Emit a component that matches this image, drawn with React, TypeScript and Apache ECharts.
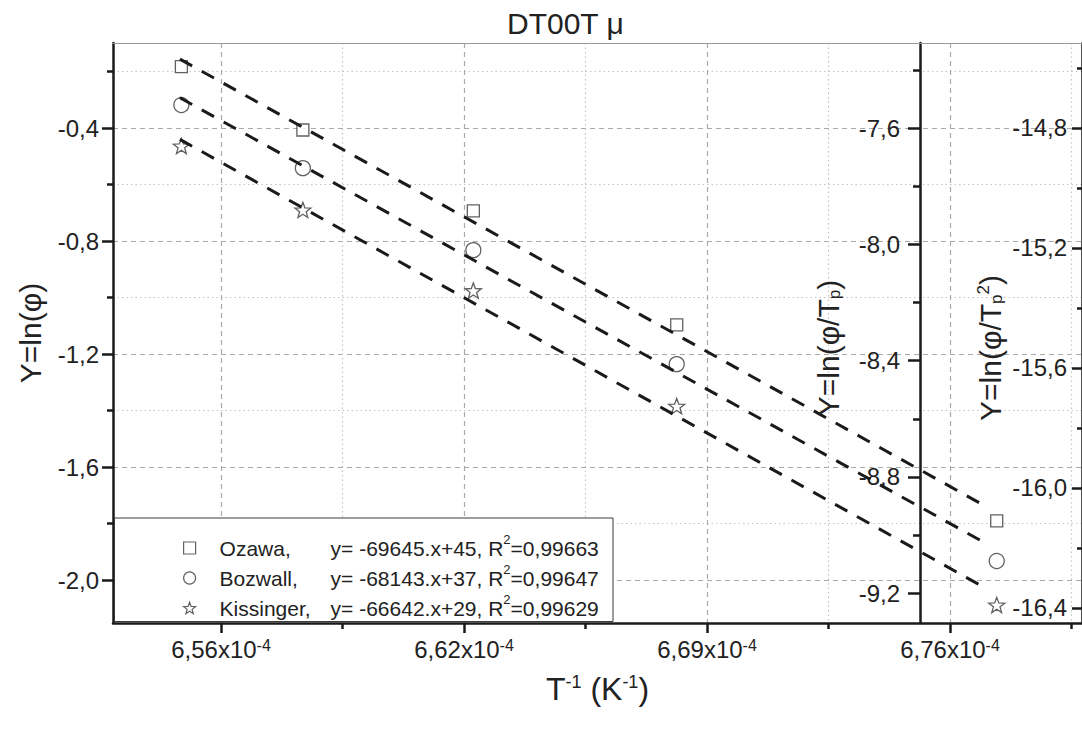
import React, { useEffect, useRef } from 'react';
import * as echarts from 'echarts';

const FONT = '"Liberation Sans", Arial, Helvetica, sans-serif';

// ---- data ----
const invT = [6.5494e-4, 6.5819e-4, 6.6275e-4, 6.6819e-4, 6.7675e-4];
const ozawa = [-0.183, -0.407, -0.693, -1.097, -1.791];
const bozwall = [-7.521, -7.738, -8.02, -8.412, -9.089];
const kissinger = [-14.86, -15.073, -15.342, -15.727, -16.39];

const fitInvT = [6.549e-4, 6.7644e-4];
const ozawaFit = [-0.156, -1.738];
const bozwallFit = [-7.496, -9.027];
const kissingerFit = [-14.838, -16.333];

const seriesNames = ['Ozawa', 'Bozwall', 'Kissinger'];
const equations = ['y= -69645.x+45', 'y= -68143.x+37', 'y= -66642.x+29'];
const r2Values = ['0,99663', '0,99647', '0,99629'];

// ---- ticks ----
const xRange = [6.53111e-4, 6.79031e-4];
const xMajorTicks = [6.56e-4, 6.625e-4, 6.69e-4, 6.755e-4];
const xMajorLabels = ['6,56', '6,62', '6,69', '6,76'];
const xMinorTicks = [6.5925e-4, 6.6575e-4, 6.7225e-4, 6.7875e-4];

const lnPhiRange = [-2.1522, -0.0991];
const lnPhiMajor = [-2.0, -1.6, -1.2, -0.8, -0.4];
const lnPhiMinor = [-1.8, -1.4, -1.0, -0.6, -0.2];

const lnPhiTpRange = [-9.3022, -7.3077];
const lnPhiTpMajor = [-9.2, -8.8, -8.4, -8.0, -7.6];
const lnPhiTpMinor = [-9.0, -8.6, -8.2, -7.8, -7.4];

const lnPhiTp2Range = [-16.45, -14.5167];
const lnPhiTp2Major = [-16.4, -16.0, -15.6, -15.2, -14.8];
const lnPhiTp2Minor = [-16.2, -15.8, -15.4, -15.0, -14.6];

const SQUARE = 'path://M0,0 L10,0 L10,10 L0,10 Z';
const STAR =
  'path://M12,1 L14.9,8.9 L23.4,9.3 L16.7,14.5 L19,22.7 L12,18 L5,22.7 L7.3,14.5 L0.6,9.3 L9.1,8.9 Z';

const comma = (v: number) => v.toFixed(1).replace('.', ',');
const INK = '#1a1a1a';
const TXT = '#222';

function majorY(range: number[], ticks: number[], position: string, offset: number, inside: boolean, tickLen: number, labelMargin: number, grid: boolean, name?: string) {
  return {
    type: 'value',
    gridIndex: 0,
    position,
    offset,
    min: range[0],
    max: range[1],
    name,
    nameLocation: 'middle',
    nameGap: 68,
    nameTextStyle: { fontSize: 30, fontFamily: FONT, color: TXT },
    axisLine: { show: true, onZero: false, lineStyle: { color: INK, width: 2.5 } },
    axisTick: { show: true, inside, length: tickLen, customValues: ticks, lineStyle: { color: INK, width: 2.5 } },
    axisLabel: {
      show: true,
      inside,
      margin: labelMargin,
      customValues: ticks,
      formatter: (v: number) => comma(v),
      fontSize: 24,
      fontFamily: FONT,
      color: TXT,
    },
    splitLine: grid
      ? { show: true, lineStyle: { color: '#a9a9a9', width: 1.2, type: [5, 4] } }
      : { show: false },
  };
}

function minorY(range: number[], ticks: number[], position: string, offset: number, inside: boolean, tickLen: number, grid: boolean) {
  return {
    type: 'value',
    gridIndex: 0,
    position,
    offset,
    min: range[0],
    max: range[1],
    axisLine: { show: false, onZero: false },
    axisTick: { show: true, inside, length: tickLen, customValues: ticks, lineStyle: { color: INK, width: 2.5 } },
    axisLabel: { show: false },
    splitLine: grid
      ? { show: true, lineStyle: { color: '#c4c4c4', width: 1.2, type: [1.5, 3] } }
      : { show: false },
  };
}

const legendText = (name: string) => {
  const i = seriesNames.indexOf(name);
  return `{g| }{n|${name},}{e|${equations[i]}, R}{s|2}{e|=${r2Values[i]}}`;
};

export default function App() {
  const ref = useRef<HTMLDivElement>(null);
  useEffect(() => {
    if (!ref.current) return;
    const chart = echarts.init(ref.current, undefined, { renderer: 'svg' });
    const symbolStyle = { color: '#ffffff', borderColor: '#3a3a3a', borderWidth: 1.3 };
    const fitStyle = { color: INK, width: 3, type: [14, 11] };
    const option: any = {
      animation: false,
      backgroundColor: '#ffffff',
      title: {
        text: 'DT00T μ',
        left: 502,
        top: 3,
        textStyle: { fontSize: 30, fontWeight: 'normal', fontFamily: FONT, color: TXT },
      },
      grid: { left: 113, top: 43, right: 0, bottom: 108, containLabel: false },
      legend: {
        data: seriesNames,
        orient: 'vertical',
        left: 183,
        top: 533,
        padding: 0,
        itemGap: 0,
        itemWidth: 12,
        itemHeight: 12,
        z: 10,
        itemStyle: { borderWidth: 1.2 },
        formatter: legendText,
        textStyle: {
          color: TXT,
          fontFamily: FONT,
          fontSize: 21,
          lineHeight: 30,
          rich: {
            g: { width: 19, fontSize: 21, fontFamily: FONT, lineHeight: 30 },
            n: { width: 111, fontSize: 21, fontFamily: FONT, color: TXT, lineHeight: 30 },
            e: { fontSize: 21, fontFamily: FONT, color: TXT, lineHeight: 30 },
            s: { fontSize: 13, fontFamily: FONT, color: TXT, verticalAlign: 'top', lineHeight: 22 },
          },
        },
      },
      xAxis: [
        {
          type: 'value',
          gridIndex: 0,
          position: 'bottom',
          min: xRange[0],
          max: xRange[1],
          name: 'T{s|-1} (K{s|-1})',
          nameLocation: 'middle',
          nameGap: 50,
          nameTextStyle: {
            fontSize: 32,
            fontFamily: FONT,
            color: TXT,
            rich: { s: { fontSize: 18, fontFamily: FONT, color: TXT, verticalAlign: 'top' } },
          },
          axisLine: { show: true, onZero: false, lineStyle: { color: INK, width: 2.5 } },
          axisTick: { show: true, length: 10, customValues: xMajorTicks, lineStyle: { color: INK, width: 2.5 } },
          axisLabel: {
            customValues: xMajorTicks,
            margin: 14,
            fontSize: 24,
            fontFamily: FONT,
            color: TXT,
            formatter: (v: number) => {
              let idx = 0;
              xMajorTicks.forEach((t, i) => {
                if (Math.abs(t - v) < Math.abs(xMajorTicks[idx] - v)) idx = i;
              });
              return `${xMajorLabels[idx]}x10{s|-4}`;
            },
            rich: { s: { fontSize: 16, fontFamily: FONT, color: TXT, verticalAlign: 'top' } },
          },
          splitLine: { show: true, lineStyle: { color: '#a9a9a9', width: 1.2, type: [5, 4] } },
        },
        {
          type: 'value',
          gridIndex: 0,
          position: 'bottom',
          min: xRange[0],
          max: xRange[1],
          axisLine: { show: false, onZero: false },
          axisTick: { show: true, length: 6, customValues: xMinorTicks, lineStyle: { color: INK, width: 2.5 } },
          axisLabel: { show: false },
          splitLine: { show: true, lineStyle: { color: '#c4c4c4', width: 1.2, type: [1.5, 3] } },
        },
        {
          type: 'value',
          gridIndex: 0,
          position: 'top',
          min: xRange[0],
          max: xRange[1],
          axisLine: { show: true, onZero: false, lineStyle: { color: '#9a9a9a', width: 1.2 } },
          axisTick: { show: false },
          axisLabel: { show: false },
          splitLine: { show: false },
        },
      ],
      yAxis: [
        majorY(lnPhiRange, lnPhiMajor, 'left', 0, false, 11, 14, true, 'Y=ln(φ)'),
        minorY(lnPhiRange, lnPhiMinor, 'left', 0, false, 6, true),
        majorY(lnPhiTpRange, lnPhiTpMajor, 'right', -162, true, 12, 20, false),
        minorY(lnPhiTpRange, lnPhiTpMinor, 'right', -162, true, 7, false),
        majorY(lnPhiTp2Range, lnPhiTp2Major, 'right', 0, true, 10, 15, false),
        minorY(lnPhiTp2Range, lnPhiTp2Minor, 'right', 0, true, 5, false),
      ],
      series: [
        {
          type: 'scatter',
          name: seriesNames[0],
          xAxisIndex: 0,
          yAxisIndex: 0,
          symbol: SQUARE,
          symbolSize: 12,
          symbolKeepAspect: true,
          itemStyle: symbolStyle,
          data: invT.map((x, i) => [x, ozawa[i]]),
          z: 3,
        },
        {
          type: 'scatter',
          name: seriesNames[1],
          xAxisIndex: 0,
          yAxisIndex: 2,
          symbol: 'circle',
          symbolSize: 15,
          itemStyle: symbolStyle,
          data: invT.map((x, i) => [x, bozwall[i]]),
          z: 3,
        },
        {
          type: 'scatter',
          name: seriesNames[2],
          xAxisIndex: 0,
          yAxisIndex: 4,
          symbol: STAR,
          symbolSize: 16,
          symbolKeepAspect: true,
          itemStyle: symbolStyle,
          data: invT.map((x, i) => [x, kissinger[i]]),
          z: 3,
        },
        {
          type: 'line',
          name: 'Ozawa fit',
          xAxisIndex: 0,
          yAxisIndex: 0,
          showSymbol: false,
          symbol: 'none',
          lineStyle: fitStyle,
          data: fitInvT.map((x, i) => [x, ozawaFit[i]]),
          z: 4,
        },
        {
          type: 'line',
          name: 'Bozwall fit',
          xAxisIndex: 0,
          yAxisIndex: 2,
          showSymbol: false,
          symbol: 'none',
          lineStyle: fitStyle,
          data: fitInvT.map((x, i) => [x, bozwallFit[i]]),
          z: 4,
        },
        {
          type: 'line',
          name: 'Kissinger fit',
          xAxisIndex: 0,
          yAxisIndex: 4,
          showSymbol: false,
          symbol: 'none',
          lineStyle: fitStyle,
          data: fitInvT.map((x, i) => [x, kissingerFit[i]]),
          z: 4,
        },
      ],
      graphic: {
        elements: [
          {
            type: 'rect',
            z: 5,
            shape: { x: 114.5, y: 518, width: 498.5, height: 103.5 },
            style: { fill: '#ffffff', stroke: '#3a3a3a', lineWidth: 1 },
          },
          {
            type: 'text',
            z: 5,
            x: 828,
            y: 348,
            rotation: Math.PI / 2,
            style: {
              text: 'Y=ln(φ/T{sub|p})',
              font: `30px ${FONT}`,
              fill: TXT,
              align: 'center',
              verticalAlign: 'middle',
              rich: {
                sub: { fontSize: 17, fontFamily: FONT, fill: TXT, verticalAlign: 'bottom' },
              },
            },
          },
          {
            type: 'text',
            z: 5,
            x: 990,
            y: 348,
            rotation: Math.PI / 2,
            style: {
              text: 'Y=ln(φ/T{sub|p}{sup|2})',
              font: `30px ${FONT}`,
              fill: TXT,
              align: 'center',
              verticalAlign: 'middle',
              rich: {
                sub: { fontSize: 17, fontFamily: FONT, fill: TXT, verticalAlign: 'bottom' },
                sup: { fontSize: 17, fontFamily: FONT, fill: TXT, verticalAlign: 'top' },
              },
            },
          },
        ],
      },
    };
    chart.setOption(option);
    return () => chart.dispose();
  }, []);
  return (
    <div
      ref={ref}
      style={{ position: 'fixed', left: 0, top: 0, width: 1082, height: 731, background: '#fff' }}
    />
  );
}
